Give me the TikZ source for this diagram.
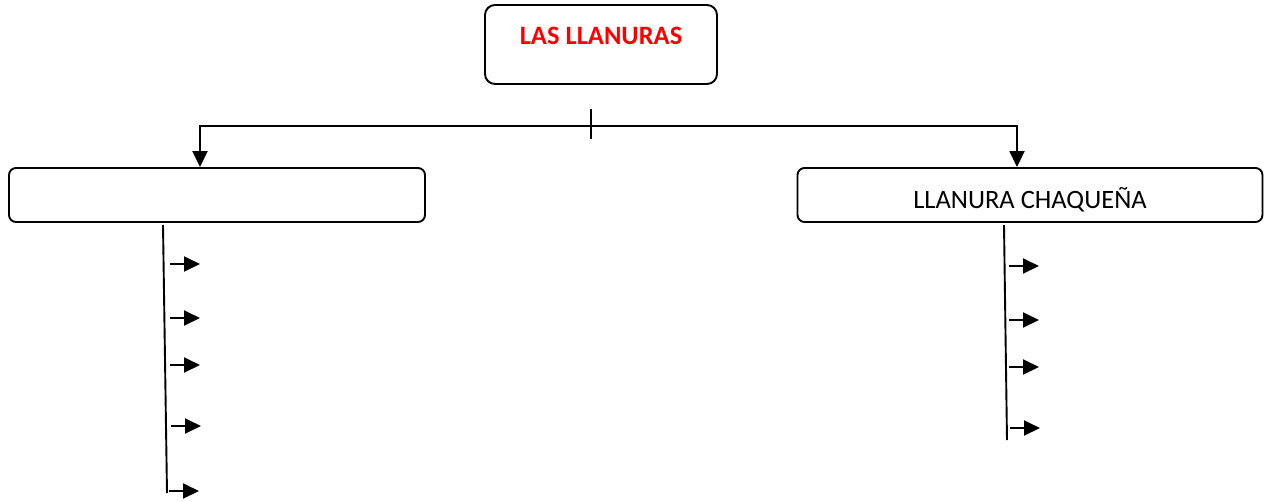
\documentclass[tikz,border=0pt]{standalone}
\usepackage{fontspec}
\setmainfont{Carlito}
\usetikzlibrary{arrows.meta}
\begin{document}
\begin{tikzpicture}[x={(1pt,0)},y={(0,-1pt)},
  line width=1.9pt,
  box/.style={draw,rounded corners=10pt,inner sep=0pt,font=\fontsize{26.5}{30}\selectfont},
  arr/.style={-{Triangle[length=16pt,width=15pt]}},
  sarr/.style={-{Triangle[length=16pt,width=15pt]}}]
\useasboundingbox (0,0) rectangle (1264,501);
\node[box,minimum width=232pt,minimum height=79pt,text height=17pt,text depth=18pt,text=red,font=\fontsize{26.5}{30}\selectfont\bfseries] (top) at (601,44.5) {LAS LLANURAS};
\node[box,rounded corners=7pt,minimum width=416pt,minimum height=54pt] (left) at (217,195) {};
\node[box,rounded corners=7pt,minimum width=465pt,minimum height=54pt,text height=26pt,text depth=0pt] (right) at (1030,195) {LLANURA CHAQUEÑA};
\coordinate (hub) at (591,126);
\coordinate (tickT) at (591,109);
\coordinate (tickB) at (591,139);
\draw (tickT) -- (tickB);
\draw[arr] (hub) -| ([xshift=-17pt]left.north);
\draw[arr] (hub) -| ([xshift=-13pt]right.north);
% left column
\coordinate (lt) at (163,225);
\coordinate (lb) at (167,493);
\draw (lt) -- (lb);
\foreach \y/\x [count=\i] in {264/170,318/170,365/170,426/171,491/169}{
  \coordinate (ls\i) at (\x,\y);
  \coordinate (le\i) at (\x+30,\y);
  \draw[sarr] (ls\i) -- (le\i);
}
% right column
\coordinate (rt) at (1004,225);
\coordinate (rb) at (1007,440);
\draw (rt) -- (rb);
\foreach \y/\x [count=\i] in {266/1009,320/1009,367/1009,428/1010}{
  \coordinate (rs\i) at (\x,\y);
  \coordinate (re\i) at (\x+30,\y);
  \draw[sarr] (rs\i) -- (re\i);
}
\end{tikzpicture}
\end{document}
